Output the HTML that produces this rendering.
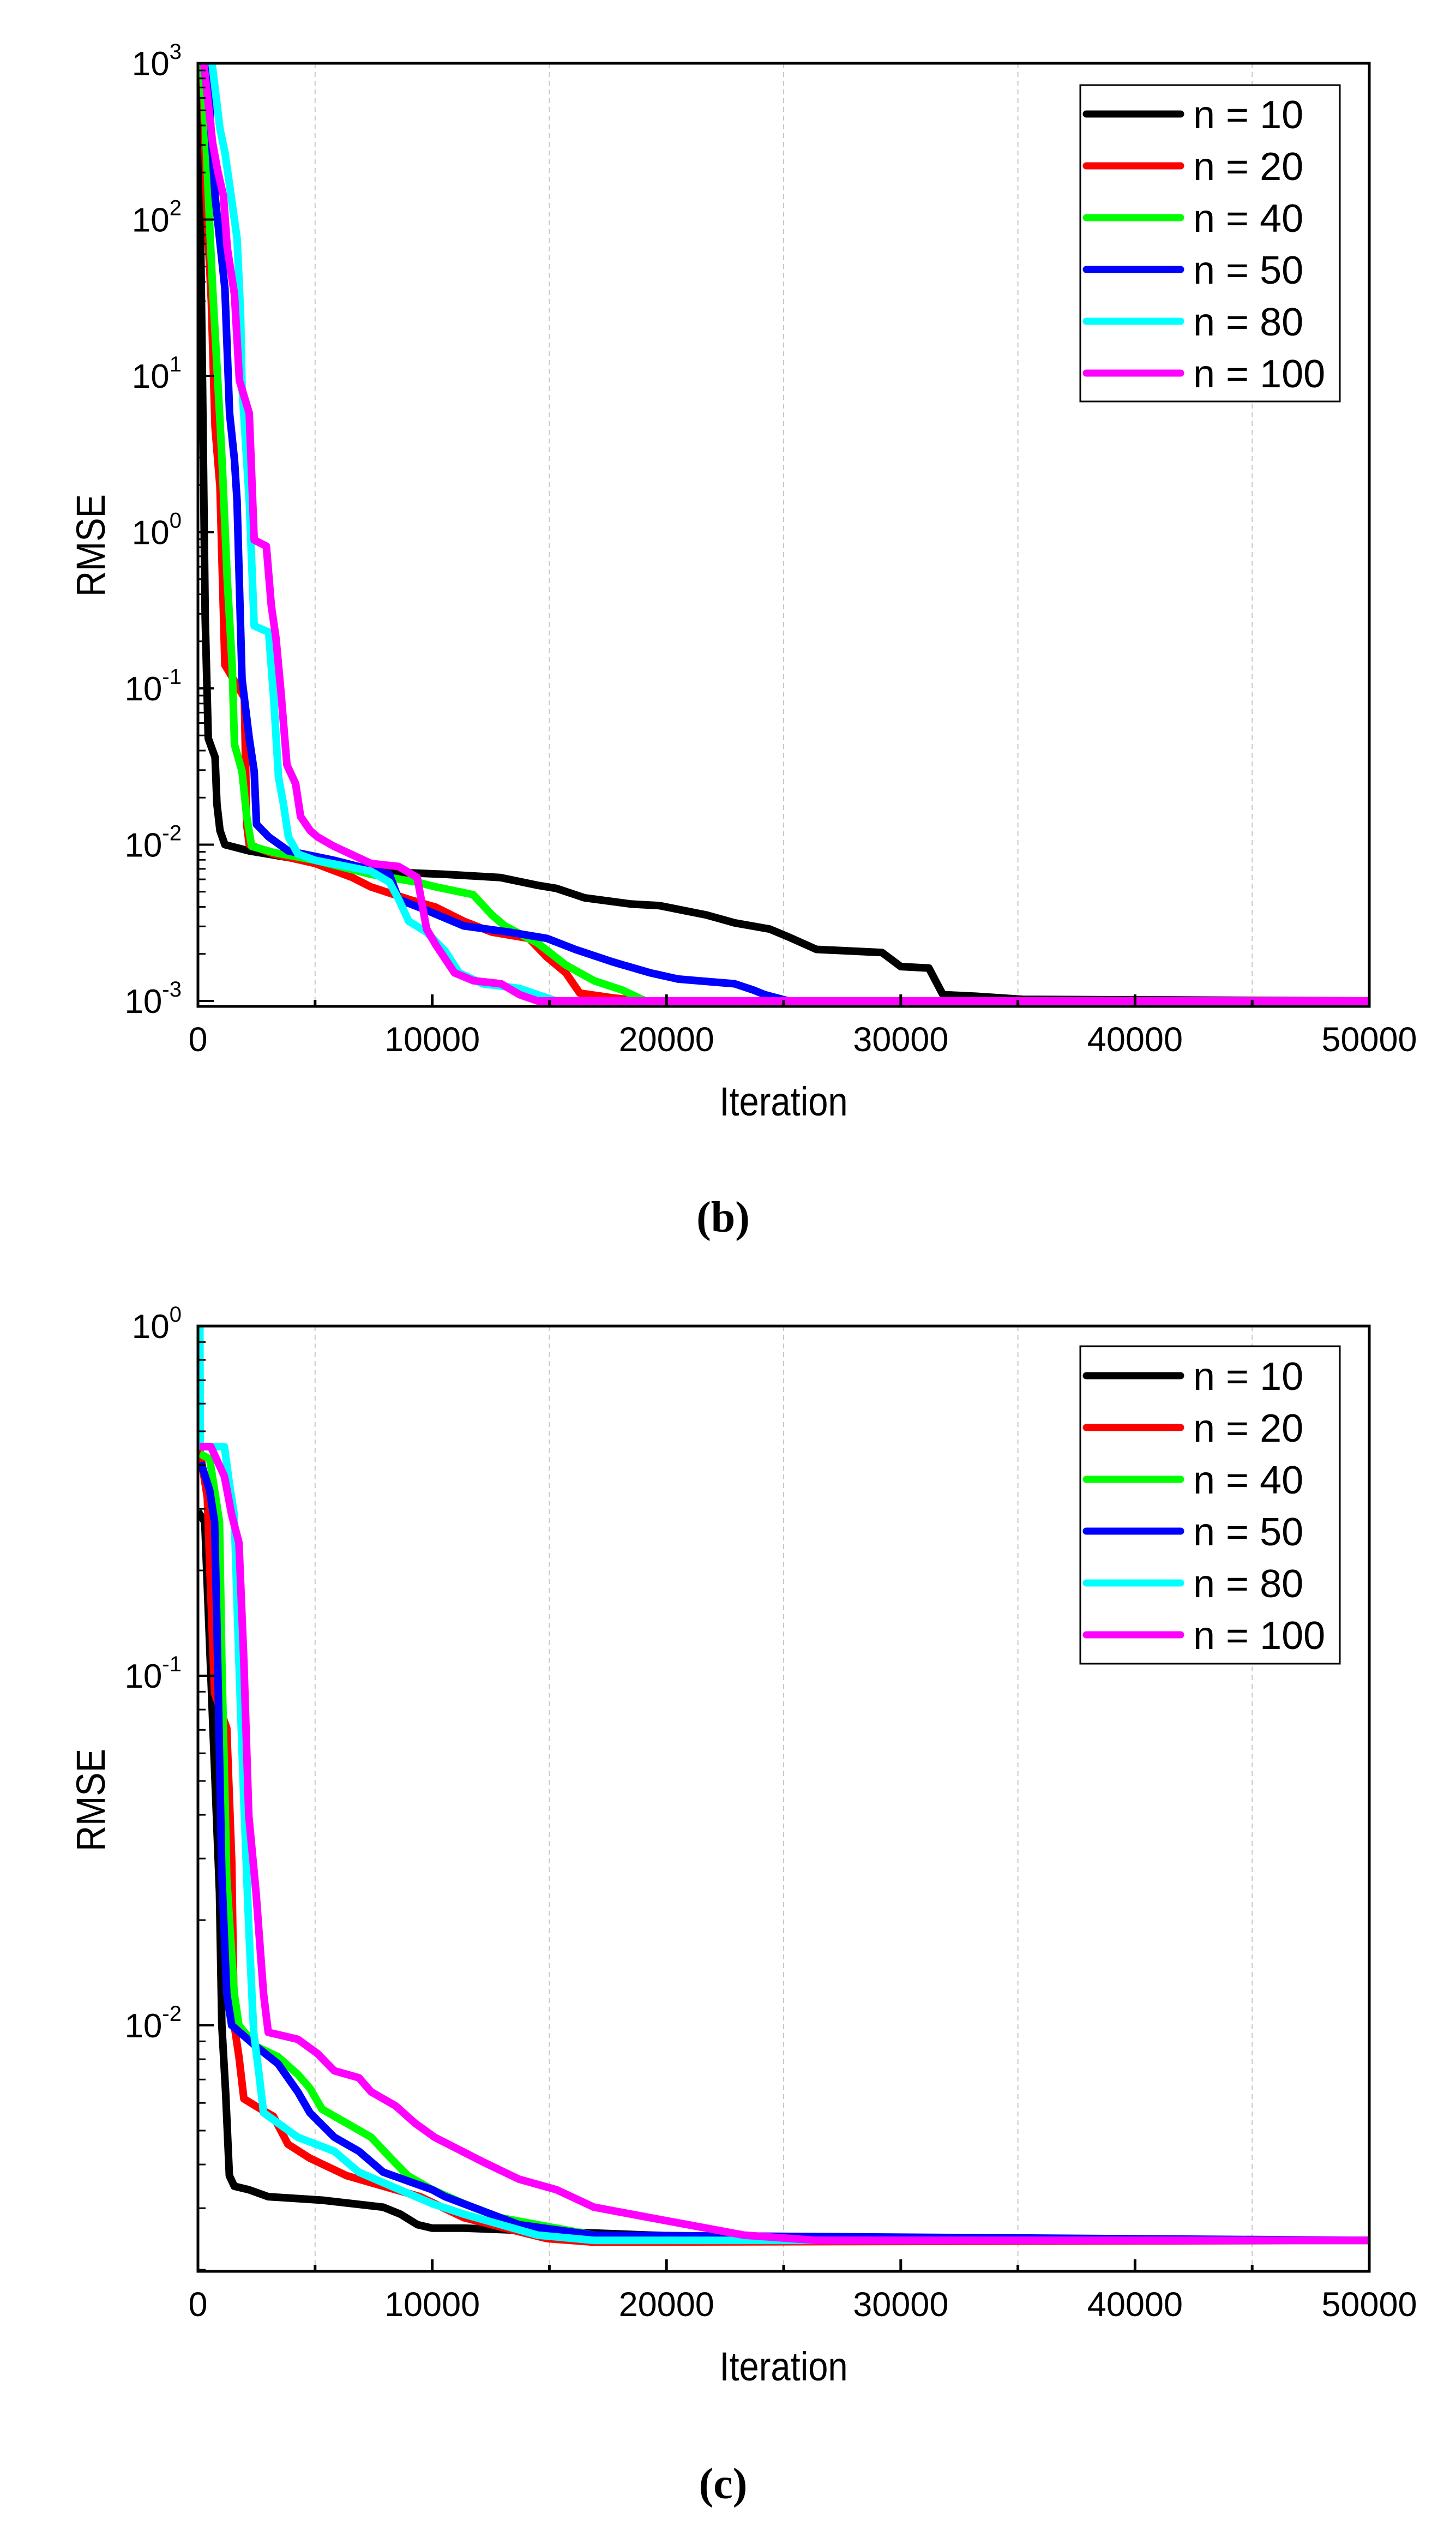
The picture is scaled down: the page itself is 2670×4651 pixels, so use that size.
<!DOCTYPE html>
<html><head><meta charset="utf-8">
<style>
html,body{margin:0;padding:0;background:#fff;}
svg{display:block;}
text{font-family:"Liberation Sans",Arial,sans-serif;fill:#000;}
</style></head>
<body>
<svg id="fig" width="2670" height="4651" viewBox="0 0 2670 4651" xmlns="http://www.w3.org/2000/svg"></svg>
<script>
// ---------- data ----------
const seriesNames = ["n = 10","n = 20","n = 40","n = 50","n = 80","n = 100"];
const seriesColors = ["#000000","#ff0000","#00ff00","#0000ff","#00ffff","#ff00ff"];
const xTickLabels = ["0","10000","20000","30000","40000","50000"];
const xTickValues = [0,10000,20000,30000,40000,50000];

// Panel (b): iterations and log10(RMSE)
const bIter10 = [0,100,190,310,440,730,810,940,1150,2190,7380,10550,12900,14500,15300,16500,18500,19700,21700,22900,24400,25200,26400,29200,30000,31200,31800,33200,35200,50000];
const bLog10  = [3,2.03,1,-0.55,-1.32,-1.44,-1.74,-1.91,-2.0,-2.04,-2.17,-2.19,-2.21,-2.26,-2.28,-2.34,-2.38,-2.39,-2.45,-2.50,-2.54,-2.59,-2.67,-2.69,-2.78,-2.79,-2.96,-2.97,-2.99,-3];
const bIter20 = [200,365,570,730,940,1040,1150,1350,1980,2080,2190,3230,5000,6590,7380,9000,10150,11350,12550,14130,14900,15700,16300,17700,18900,50000];
const bLog20  = [3,2.1,1.48,0.67,0.29,-0.26,-0.85,-0.9,-1.06,-1.87,-2.0,-2.06,-2.12,-2.21,-2.27,-2.35,-2.40,-2.49,-2.56,-2.60,-2.72,-2.82,-2.95,-2.98,-3,-3];
const bIter40 = [200,520,625,940,1040,1250,1460,1560,1880,2080,2290,3230,5000,7380,9360,10150,11750,12550,13100,14500,15700,16900,18100,19100,50000];
const bLog40  = [3,1.9,1.56,0.71,0.42,-0.3,-0.85,-1.36,-1.53,-1.82,-2.01,-2.05,-2.1,-2.19,-2.24,-2.27,-2.32,-2.45,-2.52,-2.63,-2.77,-2.87,-2.93,-3,-3];
const bIter50 = [400,560,730,1150,1350,1560,1670,1880,2190,2400,2500,3020,3860,5800,8170,8570,9760,11350,13300,14900,16100,17700,19300,20500,22900,23700,24200,25200,50000];
const bLog50  = [3,2.56,2.15,1.56,0.76,0.46,0.2,-0.94,-1.32,-1.53,-1.87,-1.95,-2.04,-2.10,-2.19,-2.35,-2.42,-2.52,-2.56,-2.60,-2.67,-2.75,-2.82,-2.86,-2.89,-2.93,-2.96,-3,-3];
const bIter80 = [600,940,1150,1350,1670,1820,1880,2190,2400,3020,3230,3440,3650,3860,4270,5000,7380,8170,8570,9000,9760,10550,11150,12150,13730,14500,15300,50000];
const bLog80  = [3,2.58,2.43,2.22,1.88,1.39,0.93,0.2,-0.6,-0.64,-1.06,-1.57,-1.74,-1.95,-2.06,-2.1,-2.17,-2.24,-2.35,-2.49,-2.56,-2.68,-2.82,-2.89,-2.92,-2.96,-3,-3];
const bIter100 = [250,625,830,1090,1250,1560,1770,2190,2400,2920,3130,3330,3540,3800,4170,4380,4790,5100,5800,7380,8570,9360,9760,10150,10950,11750,12940,13730,14500,50000];
const bLog100  = [3,2.49,2.32,2.15,1.82,1.52,0.97,0.76,-0.05,-0.09,-0.47,-0.68,-1.02,-1.49,-1.61,-1.82,-1.91,-1.95,-2.01,-2.12,-2.14,-2.21,-2.54,-2.64,-2.82,-2.87,-2.89,-2.96,-3,-3];

// Panel (c)
const cIter10 = [0,290,920,1020,1180,1340,1550,2170,3000,5300,7900,8640,9370,10000,11350,19300,26400,50000];
const cLog10  = [-0.53,-0.56,-1.62,-2.0,-2.19,-2.43,-2.46,-2.47,-2.49,-2.50,-2.52,-2.54,-2.57,-2.58,-2.58,-2.60,-2.615,-2.615];
const cIter20 = [80,400,500,710,1230,1440,1550,1750,1960,2690,3220,3840,4780,6350,7910,9480,11350,13700,14900,16900,50000];
const cLog20  = [-0.355,-0.49,-0.68,-1.05,-1.15,-1.53,-2.0,-2.09,-2.21,-2.24,-2.26,-2.34,-2.38,-2.43,-2.46,-2.49,-2.55,-2.59,-2.61,-2.62,-2.615];
const cIter40 = [80,500,920,1020,1230,1550,1750,2480,3420,4260,4780,5300,6350,7390,8230,8960,10000,11350,12900,15300,16900,19300,50000];
const cLog40  = [-0.365,-0.38,-0.56,-0.96,-1.58,-1.91,-2.0,-2.06,-2.09,-2.14,-2.18,-2.24,-2.28,-2.32,-2.38,-2.43,-2.47,-2.51,-2.55,-2.58,-2.60,-2.61,-2.615];
const cIter50 = [120,500,710,815,1020,1230,1440,2480,3420,4260,4780,5820,6870,7910,10000,10550,13700,16900,50000];
const cLog50  = [-0.39,-0.47,-0.56,-0.87,-1.57,-1.91,-2.0,-2.06,-2.11,-2.19,-2.25,-2.32,-2.36,-2.42,-2.47,-2.49,-2.57,-2.60,-2.615];
const cIter80 = [0,80,100,1130,1340,1550,1750,1960,2170,2380,2590,2800,3220,4260,5820,6870,7910,10000,11350,14500,16900,50000];
const cLog80  = [0,0,-0.345,-0.345,-0.45,-0.54,-0.96,-1.36,-1.72,-2.02,-2.13,-2.25,-2.27,-2.32,-2.36,-2.42,-2.45,-2.51,-2.54,-2.60,-2.615,-2.615];
const cIter100 = [80,550,1130,1440,1750,1960,2170,2480,2800,3000,4260,5090,5820,6870,7390,8430,9270,10100,12150,13700,15300,16900,19300,21700,23300,26400,50000];
const cLog100  = [-0.345,-0.345,-0.43,-0.54,-0.62,-0.96,-1.40,-1.62,-1.91,-2.02,-2.04,-2.08,-2.13,-2.15,-2.19,-2.23,-2.28,-2.32,-2.39,-2.44,-2.47,-2.52,-2.55,-2.58,-2.60,-2.615,-2.615];

const bIters = [bIter10,bIter20,bIter40,bIter50,bIter80,bIter100];
const bLogs  = [bLog10,bLog20,bLog40,bLog50,bLog80,bLog100];
const cIters = [cIter10,cIter20,cIter40,cIter50,cIter80,cIter100];
const cLogs  = [cLog10,cLog20,cLog40,cLog50,cLog80,cLog100];

// ---------- drawing ----------
const NS = "http://www.w3.org/2000/svg";
const svg = document.getElementById("fig");
function mk(tag, attrs, parent){
  const e = document.createElementNS(NS, tag);
  for (const k in attrs) e.setAttribute(k, attrs[k]);
  (parent||svg).appendChild(e);
  return e;
}

function drawPanel(cfg){
  const g = mk("g", {});
  
  
  const L = 363, R = 2511, T = cfg.top, B = cfg.bottom;
  const xs = v => L + (v/50000)*(R-L);
  const ys = lg => cfg.yTopPx + (cfg.yTopLog - lg)*cfg.decadePx;

  [5000,15000,25000,35000,45000].forEach(v=>{
    const gl = mk("line",{x1:xs(v),x2:xs(v),y1:T,y2:B,stroke:"#c8c8c8","stroke-width":2,"stroke-dasharray":"9 7"},g);
    
    
  });

  const clip = mk("clipPath",{id:cfg.name+"-clip"},g);
  mk("rect",{x:L,y:T,width:R-L,height:B-T},clip);
  const sg = mk("g",{"clip-path":"url(#"+cfg.name+"-clip)"},g);
  for (let s=0;s<6;s++){
    const it = cfg.iters[s], lg = cfg.logs[s];
    let pts = [];
    for (let i=0;i<it.length;i++) pts.push(xs(it[i]).toFixed(1)+","+ys(lg[i]).toFixed(1));
    const pl = mk("polyline",{points:pts.join(" "),fill:"none",stroke:seriesColors[s],"stroke-width":14,"stroke-linejoin":"round","stroke-linecap":"butt"},sg);
    
    
  }

  const fr = mk("rect",{x:L,y:T,width:R-L,height:B-T,fill:"none",stroke:"#000","stroke-width":5},g);
  
  

  for (let d=cfg.yTopLog; d>=cfg.yBotLog; d--){
    const y = ys(d);
    if (y <= B+1){
      mk("line",{x1:L,x2:L+29,y1:y,y2:y,stroke:"#000","stroke-width":4},g);
      const t = mk("text",{x:L-30,y:y+22,"font-size":62,"text-anchor":"end"},g);
      
      
      t.appendChild(document.createTextNode("10"));
      const sup = mk("tspan",{dy:-30,"font-size":40},t);
      sup.textContent = String(d);
    }
    for (let m=2;m<=9;m++){
      const ym = ys(d-1+Math.log10(m));
      if (ym <= B && ym >= T) mk("line",{x1:L,x2:L+14,y1:ym,y2:ym,stroke:"#000","stroke-width":3},g);
    }
  }
  for (let v=0; v<=50000; v+=5000){
    const major = v%10000===0;
    mk("line",{x1:xs(v),x2:xs(v),y1:B,y2:B-(major?22:12),stroke:"#000","stroke-width":5},g);
  }
  xTickValues.forEach((v,i)=>{
    const t = mk("text",{x:xs(v),y:B+82,"font-size":63,"text-anchor":"middle"},g);
    
    
    t.textContent = xTickLabels[i];
  });
  const xt = mk("text",{x:(L+R)/2,y:B+200,"font-size":74,"text-anchor":"middle",transform:"translate("+((L+R)/2)+",0) scale(0.88,1) translate("+(-(L+R)/2)+",0)"},g);
  
  
  xt.textContent = "Iteration";
  const yt = mk("text",{x:0,y:0,"font-size":74,"text-anchor":"middle",transform:"translate(192,"+cfg.rmseY+") rotate(-90) scale(0.88,1)"},g);
  
  
  yt.textContent = "RMSE";

  const lg = mk("g",{},g);
  
  
  mk("rect",{x:1981,y:cfg.legTop,width:476,height:cfg.legH,fill:"#fff",stroke:"#000","stroke-width":3},lg);
  for (let s=0;s<6;s++){
    const y = cfg.legRow0 + s*cfg.legStep;
    const e = mk("g",{},lg);
    
    
    mk("line",{x1:1992,x2:2165,y1:y,y2:y,stroke:seriesColors[s],"stroke-width":13,"stroke-linecap":"round"},e);
    const t = mk("text",{x:2188,y:y+26,"font-size":72},e);
    t.textContent = seriesNames[s];
  }

  const cap = mk("text",{x:1326,y:cfg.capY,"font-size":80,"font-weight":"bold","text-anchor":"middle"},g);
  
  
  cap.setAttribute('style','font-family:"Liberation Serif",serif');
  cap.textContent = cfg.caption;
}

drawPanel({name:"panel-b",top:116,bottom:1845,yTopPx:116,yTopLog:3,yBotLog:-3,decadePx:286.5,
  iters:bIters,logs:bLogs,legTop:156,legH:580,legRow0:209,legStep:95,rmseY:1000,capY:2258,caption:"(b)"});
drawPanel({name:"panel-c",top:2431,bottom:4164,yTopPx:2431,yTopLog:0,yBotLog:-2,decadePx:641,
  iters:cIters,logs:cLogs,legTop:2468,legH:582,legRow0:2522,legStep:95,rmseY:3300,capY:4580,caption:"(c)"});
</script>
</body></html>
